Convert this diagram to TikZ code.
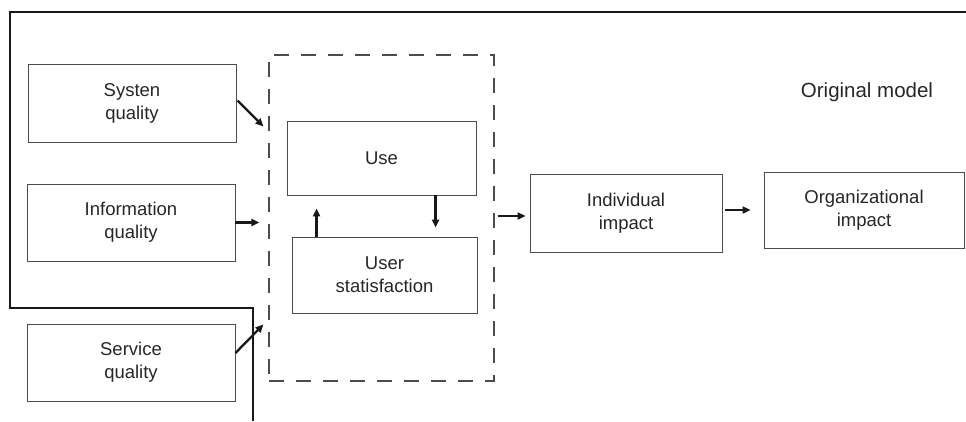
\documentclass[tikz,border=0pt]{standalone}
\usepackage{fontspec}
\setmainfont{Liberation Sans}
\usetikzlibrary{arrows.meta,calc}

\begin{document}
\begin{tikzpicture}[x=1pt,y=-1pt,
  box/.style={draw=black!70,line width=0.9pt,rectangle,align=center,
    text=black!85,font=\fontsize{18.5}{23}\selectfont,inner sep=0pt},
  arr/.style={line width=2.3pt,draw=black!90,
    -{Triangle[length=8pt,width=7pt]}},
  frame/.style={line width=2.8pt,draw=black!90},
  group/.style={draw=black!70,line width=1.1pt,dash pattern=on 15pt off 12pt,
    rectangle,inner sep=0pt}]

\useasboundingbox (0,0) rectangle (966,421);

% outer frame line
\draw[frame] (966,12) -- (10,12) -- (10,308) -- (253,308) -- (253,421);

% dashed group around Use / User satisfaction
\node[group,minimum width=225pt,minimum height=326pt] (grp) at (381.5,218) {};

% input boxes
\node[box,minimum width=208pt,minimum height=78pt] (sys)  at (132,103)   {Systen\\quality};
\node[box,minimum width=208pt,minimum height=77pt] (info) at (131,222.5) {Information\\quality};
\node[box,minimum width=208pt,minimum height=77pt] (serv) at (131,362.5) {Service\\quality};

% inner boxes
\node[box,minimum width=189pt,minimum height=74pt] (use)  at (381.5,158) {Use};
\node[box,minimum width=185pt,minimum height=76pt] (usat) at (384.5,275) {User\\statisfaction};

% impact boxes
\node[box,minimum width=192pt,minimum height=78pt] (indiv) at (626,213) {Individual\\impact};
\node[box,minimum width=200pt,minimum height=76pt] (org)   at (864,210) {Organizational\\impact};

% title
\node[text=black!85,font=\fontsize{20.5}{24}\selectfont] (title) at (867,92) {Original model};

% entry points on the group border
\coordinate (gin1) at ($(grp.north west)+(-5,72)$);
\coordinate (gin2) at ($(grp.north west)+(-9,168)$);
\coordinate (gin3) at ($(grp.north west)+(-5,270)$);

% connectors
\draw[arr] ($(sys.north east)+(1,37)$) -- (gin1);
\draw[arr] (info.east) -- (info.east -| gin2);
\draw[arr] ($(serv.east)+(0,-9.5)$) -- (gin3);

\draw[arr] ($(use.south west)+(149,0)$) -- ($(usat.north west)+(144,-9)$);
\draw[arr] ($(usat.north west)+(25,0)$) -- ($(use.south west)+(30,13)$);

\draw[arr] ($(grp.east)+(3,-2)$) -- ($(indiv.west)+(-4,3)$);
\draw[arr] ($(indiv.east)+(3,-3)$) -- ($(org.west)+(-13,0)$);

\end{tikzpicture}
\end{document}
